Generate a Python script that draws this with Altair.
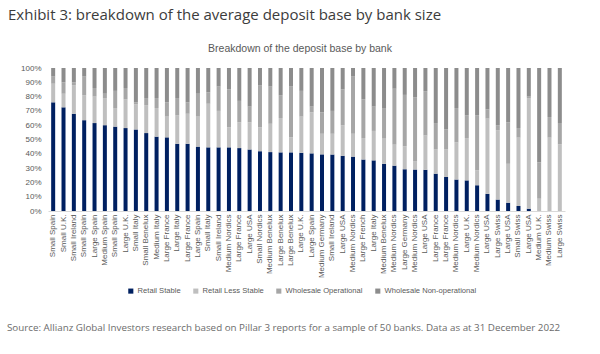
import altair as alt
import pandas as pd

title_text = "Exhibit 3: breakdown of the average deposit base by bank size"
subtitle_text = "Breakdown of the deposit base by bank"
source_text = ("Source: Allianz Global Investors research based on Pillar 3 reports for a sample of 50 banks. "
               "Data as at 31 December 2022")

banks = [
    "Small Spain", "Small U.K.", "Small Ireland", "Small Spain", "Large Spain", "Medium Spain",
    "Small Spain", "Large U.K.", "Small Italy", "Small Benelux", "Medium Italy", "Large France",
    "Large Italy", "Large France", "Large Spain", "Small Italy", "Small Ireland", "Medium Nordics",
    "Large France", "Large USA", "Small Nordics", "Medium Benelux", "Large Benelux", "Large Benelux",
    "Large U.K.", "Large Spain", "Medium Germany", "Small Ireland", "Large USA", "Medium Nordics",
    "Large French", "Large Italy", "Medium Benelux", "Medium Nordics", "Large Germany", "Medium Nordics",
    "Large USA", "Large France", "Large France", "Medium Nordics", "Large U.K.", "Medium Nordics",
    "Large USA", "Large Swiss", "Large USA", "Small Swiss", "Large USA", "Medium U.K.",
    "Medium Swiss", "Large Swiss",
]

retail_stable = [
    76, 72.5, 68, 63.5, 61.5, 60, 59, 58, 57, 54.5,
    52, 51.5, 47, 47, 45, 44.5, 44.5, 44.5, 44, 43,
    41.8, 41.2, 41, 41, 40.7, 40.3, 39.6, 39.5, 38.6, 38,
    36, 35.4, 33, 31.7, 29.2, 29, 28.8, 26.1, 23.8, 22,
    21.4, 18, 12, 8, 5.8, 3.5, 1.6, 0, 0, 0,
]
retail_less_stable = [
    13, 9.5, 20, 17.5, 18.5, 19, 13, 20, 17.5, 19.5,
    20, 14.5, 20, 21, 21, 30.5, 25.5, 14, 18, 19,
    16.7, 19.8, 24, 10.5, 25.3, 28.7, 14.4, 14.5, 21.4, 16,
    15, 20.6, 17.6, 14.7, 16, 5.6, 24, 16.9, 19.2, 26,
    29.6, 10.4, 52.6, 48.4, 27.2, 47.8, 77.4, 8.6, 51.3, 46.6,
]
wholesale_operational = [
    5, 8, 2, 13, 6, 3, 12, 8, 1.5, 5,
    7, 10, 12, 8, 16, 8, 17, 26.5, 15, 11,
    29.5, 26, 16, 35.5, 18, 4, 15, 16, 25, 40,
    27, 17, 21.4, 39.1, 36, 45, 31, 18.5, 14, 24,
    16, 38.6, 6.4, 3.6, 29, 6.7, 1, 25.4, 14.4, 14.9,
]
wholesale_non_operational = [
    6, 10, 10, 6, 14, 18, 16, 14, 24, 21,
    21, 24, 21, 24, 18, 17, 13, 15, 23, 27,
    12, 13, 19, 13, 16, 27, 31, 30, 15, 6,
    22, 27, 28, 14.5, 18.8, 20.4, 16.2, 38.5, 43, 28,
    33, 33, 29, 40, 38, 42, 20, 66, 34.3, 38.5,
]

series = ["Retail Stable", "Retail Less Stable", "Wholesale Operational", "Wholesale Non-operational"]
colors = ["#002060", "#bfbfbf", "#a6a6a6", "#8c8c8c"]
values = [retail_stable, retail_less_stable, wholesale_operational, wholesale_non_operational]

rows = []
for i, b in enumerate(banks):
    key = f"{i:02d}|{b}"
    for j, (s, vals) in enumerate(zip(series, values)):
        rows.append({"key": key, "series": s, "ord": j, "value": vals[i]})
df = pd.DataFrame(rows)

W, H = 517, 143
LEFT, TOP = 48, 68
FONT = "Open Sans"
AXFONT = "Liberation Sans"

bars = alt.Chart(df).mark_bar(size=4).encode(
    x=alt.X("key:N", sort="ascending",
            scale=alt.Scale(paddingInner=0, paddingOuter=0),
            axis=alt.Axis(labelExpr="split(datum.value, '|')[1]", labelAngle=270,
                          labelAlign="right", labelBaseline="middle",
                          labelFontSize=8, labelColor="#595959", labelFont=AXFONT,
                          labelPadding=3, ticks=False, domain=True,
                          domainColor="#d9d9d9", title=None)),
    y=alt.Y("value:Q", stack="zero", scale=alt.Scale(domain=[0, 100], nice=False),
            axis=alt.Axis(values=list(range(0, 101, 10)), labelExpr="datum.value + '%'",
                          grid=False, domain=False, ticks=False, title=None,
                          labelFontSize=8, labelColor="#595959", labelFont=AXFONT,
                          labelPadding=7)),
    color=alt.Color("series:N", scale=alt.Scale(domain=series, range=colors),
                    legend=alt.Legend(orient="none", legendX=79, legendY=219,
                                      direction="horizontal", title=None,
                                      symbolType="square", symbolSize=26,
                                      symbolStrokeWidth=0, labelFontSize=7.6,
                                      labelFont=AXFONT, labelColor="#595959",
                                      columnPadding=11, labelOffset=3)),
    order=alt.Order("ord:Q", sort="ascending"),
)

title = alt.Chart(pd.DataFrame({"t": [title_text]})).mark_text(
    align="left", baseline="middle", fontSize=15, font=FONT, color="#3c3c3c"
).encode(text="t:N", x=alt.value(8 - LEFT), y=alt.value(15 - TOP))

subtitle = alt.Chart(pd.DataFrame({"t": [subtitle_text]})).mark_text(
    align="center", baseline="middle", fontSize=10.5, font=AXFONT, color="#595959"
).encode(text="t:N", x=alt.value(300 - LEFT), y=alt.value(49 - TOP))

source = alt.Chart(pd.DataFrame({"t": [source_text]})).mark_text(
    align="left", baseline="middle", fontSize=9.8, font=FONT, color="#6b6b6b"
).encode(text="t:N", x=alt.value(7 - LEFT), y=alt.value(328 - TOP))

chart = alt.layer(bars, title, subtitle, source).properties(
    width=W, height=H,
    autosize=alt.AutoSizeParams(type="none"),
    padding={"left": LEFT, "top": TOP, "right": 600 - LEFT - W, "bottom": 354 - TOP - H},
    background="white",
).configure_view(stroke=None)

chart.save("out.html", embed_options={"renderer": "svg", "actions": False})
